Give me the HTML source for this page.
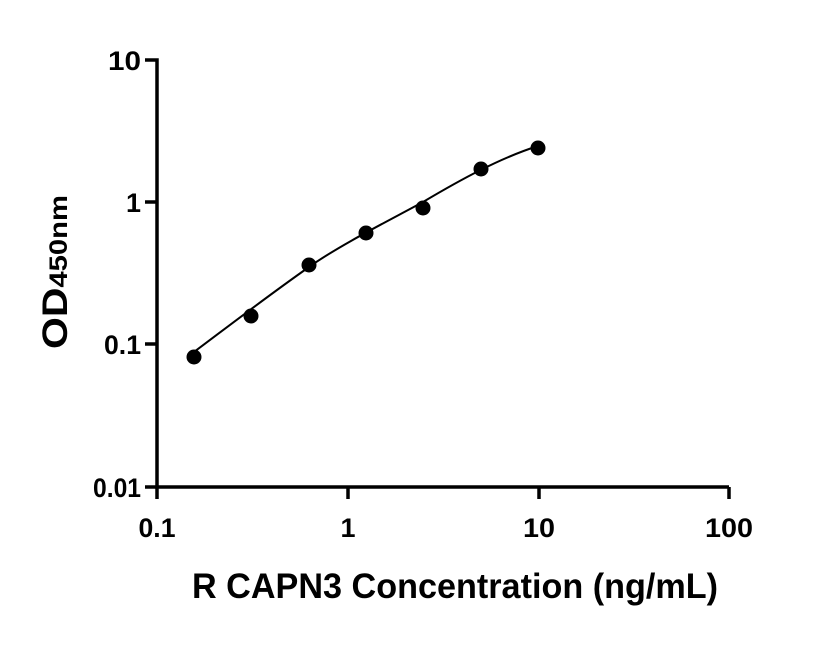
<!DOCTYPE html>
<html><head><meta charset="utf-8"><style>body{margin:0;background:#fff}</style></head><body>
<svg width="816" height="640" xmlns="http://www.w3.org/2000/svg" font-family="Liberation Sans, sans-serif" font-weight="bold">
<g stroke="#000" stroke-width="3.5" fill="none">
<path d="M145,60H157V487H729"/>
<path d="M145,202H157M145,344H157M145,487H157"/>
<path d="M157,487V499M348,487V499M539,487V499M729,487V499"/>
</g>
<g font-size="27" text-anchor="end" lengthAdjust="spacingAndGlyphs">
<text x="141" y="70" textLength="33" lengthAdjust="spacingAndGlyphs">10</text>
<text x="141" y="212" textLength="15" lengthAdjust="spacingAndGlyphs">1</text>
<text x="141" y="354" textLength="37" lengthAdjust="spacingAndGlyphs">0.1</text>
<text x="141" y="497" textLength="48" lengthAdjust="spacingAndGlyphs">0.01</text>
</g>
<g font-size="27" text-anchor="middle">
<text x="157" y="537" textLength="37" lengthAdjust="spacingAndGlyphs">0.1</text>
<text x="348" y="537" textLength="15" lengthAdjust="spacingAndGlyphs">1</text>
<text x="539" y="537" textLength="32" lengthAdjust="spacingAndGlyphs">10</text>
<text x="729" y="537" textLength="48" lengthAdjust="spacingAndGlyphs">100</text>
</g>
<text x="455" y="598" font-size="35" text-anchor="middle" textLength="526" lengthAdjust="spacingAndGlyphs">R CAPN3 Concentration (ng/mL)</text>
<text transform="translate(67,349) rotate(-90)" font-size="35" textLength="154" lengthAdjust="spacingAndGlyphs">OD<tspan font-size="25">450nm</tspan></text>
<path d="M194,352 C230,325 265,298 309,267 C340,245 390,220 423,202 C460,180 500,158 538,146" stroke="#000" stroke-width="2" fill="none"/>
<g fill="#000">
<circle cx="194" cy="357" r="7.5"/>
<circle cx="251" cy="316" r="7.5"/>
<circle cx="309" cy="265" r="7.5"/>
<circle cx="366" cy="233" r="7.5"/>
<circle cx="423" cy="208" r="7.5"/>
<circle cx="481" cy="169" r="7.5"/>
<circle cx="538" cy="148" r="7.5"/>
</g>
</svg>
</body></html>
